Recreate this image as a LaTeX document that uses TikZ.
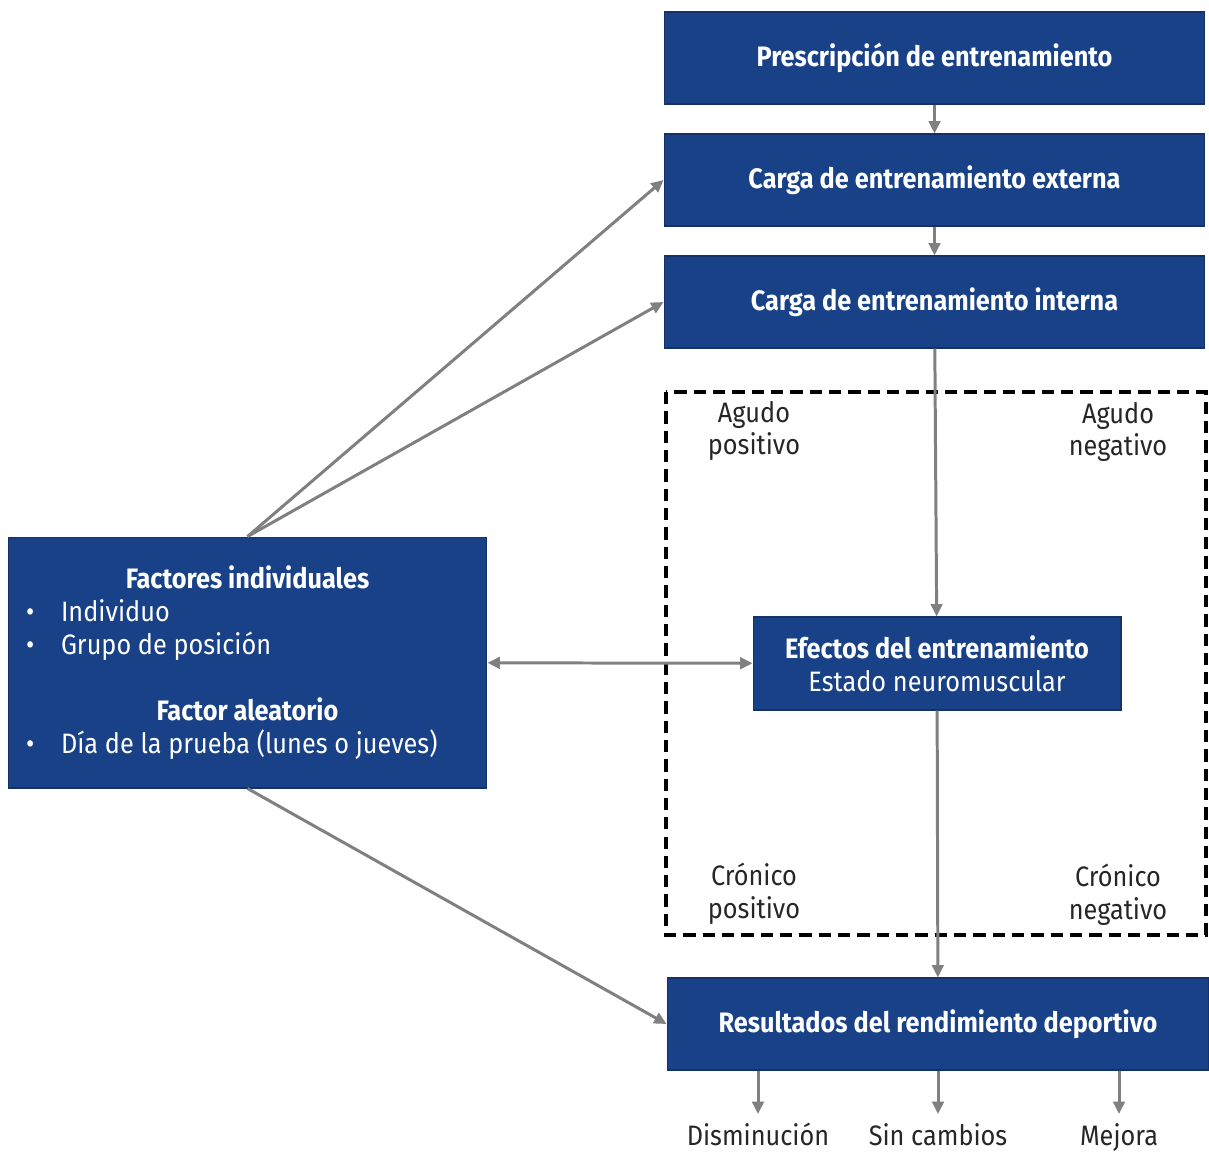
\documentclass[tikz,border=0pt]{standalone}
\usepackage{fontspec}
\setmainfont{Fira Sans}[FakeStretch=0.9,BoldFeatures={FakeStretch=0.9}]
\usepackage{tikz}
\usetikzlibrary{calc}
\usetikzlibrary{arrows.meta}

\definecolor{boxblue}{RGB}{25,65,135}
\definecolor{boxline}{RGB}{20,50,105}
\definecolor{arrgray}{RGB}{128,128,128}
\newcommand{\itm}[1]{\makebox[0.7cm][l]{\textbullet}#1\par}

\begin{document}
\begin{tikzpicture}[x=0.02cm,y=-0.02cm,
    >={Triangle[length=7pt,width=6.5pt]},
    every node/.style={font=\fontsize{16}{18.7}\selectfont},
    every edge/.append style={draw=arrgray,line width=1.7pt},
    blk/.style={draw=boxline,line width=0.6pt,fill=boxblue,text=white,
                minimum height=1.84cm,inner sep=0pt},
    lbl/.style={align=center,text=black!85},
    res/.style={text=black!85,anchor=base,inner sep=1pt}]
  \useasboundingbox (0,0) rectangle (1209,1155);

  % fase aguda / cronica
  \draw[line width=2pt,dash pattern=on 7pt off 4pt]
       (666,392) rectangle (1206,935);

  \node[blk, minimum width=10.82cm] (prescripcion) at (934.5,58)  {\bfseries Prescripción de entrenamiento};
  \node[blk, minimum width=10.82cm] (externa)      at (934.5,180) {\bfseries Carga de entrenamiento externa};
  \node[blk, minimum width=10.82cm] (interna)      at (934.5,302) {\bfseries Carga de entrenamiento interna};
  \node[blk, minimum width=7.36cm, minimum height=1.86cm, align=center]
                                    (efectos)      at (937,663.5) {\bfseries Efectos del entrenamiento\\Estado neuromuscular};
  \node[blk, minimum width=10.84cm] (resultados)   at (938,1024)  {\bfseries Resultados del rendimiento deportivo};
  \node[blk, minimum width=9.58cm, minimum height=5.02cm, text width=8.86cm, align=left]
                                    (factores)     at (247.5,662.5) {%
      \spaceskip=0pt \xspaceskip=0pt
      {\centering\bfseries Factores individuales\par}
      \itm{Individuo}
      \itm{Grupo de posición}
      \vspace{18.7pt}
      {\centering\bfseries Factor aleatorio\par}
      \itm{Día de la prueba (lunes o jueves)}};

  \node[lbl] (agpos) at (754,431)  {Agudo\\positivo};
  \node[lbl] (agneg) at (1118,432) {Agudo\\negativo};
  \node[lbl] (crpos) at (754,894)  {Crónico\\positivo};
  \node[lbl] (crneg) at (1118,895) {Crónico\\negativo};

  \node[res] (disminucion) at (758,1145)  {Disminución};
  \node[res] (sincambios)  at (938,1145)  {Sin cambios};
  \node[res] (mejora)      at (1119,1145) {Mejora};

  \path[->]
        (prescripcion) edge (externa)
        (externa)      edge (interna)
        (interna)      edge (efectos)
        (efectos)      edge (resultados)
        (factores.north) edge (externa.west)
                         edge (interna.west)
        (factores.south) edge (resultados.west)
        (resultados.south -| disminucion) edge ($(disminucion.base)+(0,-31)$)
        (resultados.south -| sincambios)  edge ($(sincambios.base)+(0,-31)$)
        (resultados.south -| mejora)      edge ($(mejora.base)+(0,-31)$);
  \path (factores) edge[<->] (efectos);
\end{tikzpicture}
\end{document}
